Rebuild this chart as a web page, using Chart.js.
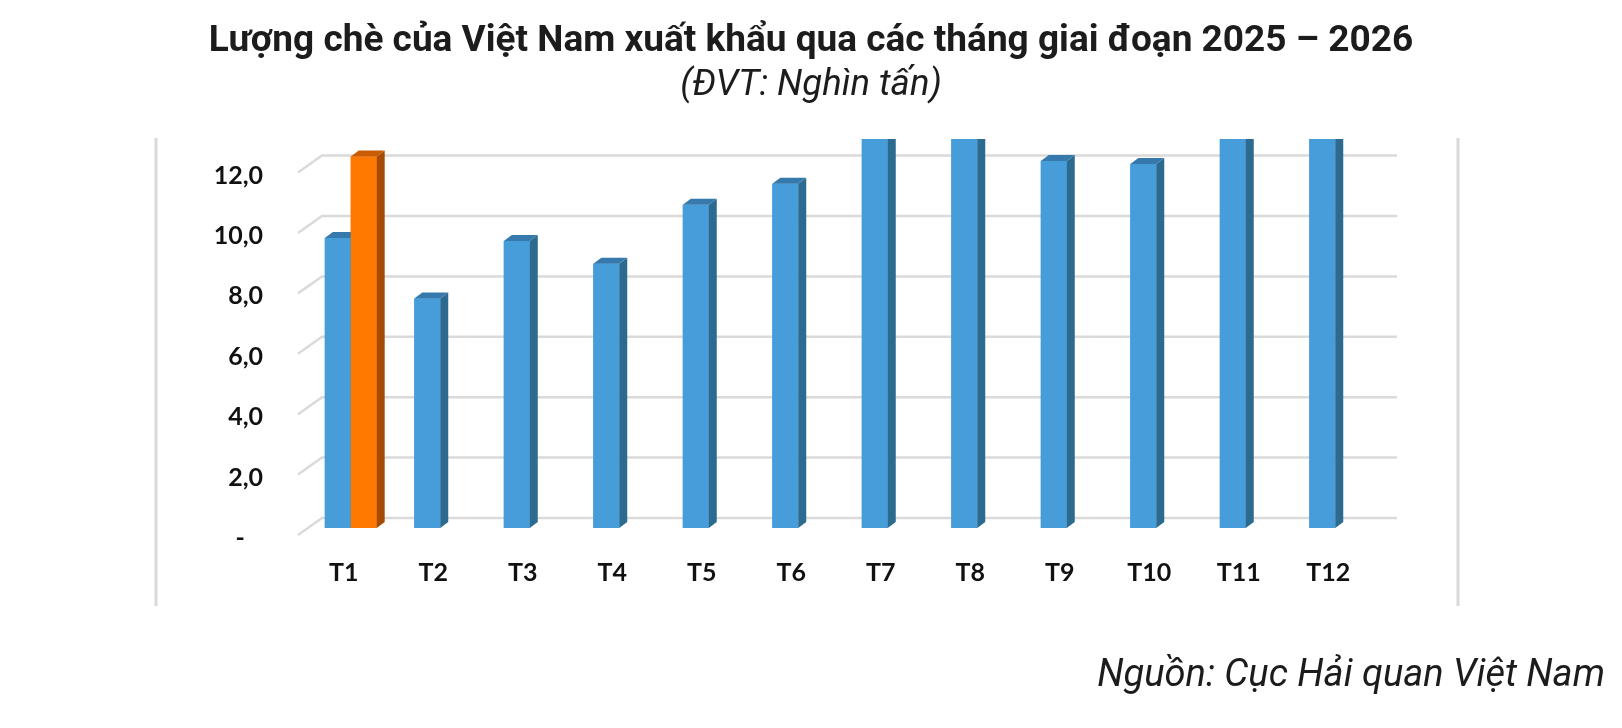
<!DOCTYPE html>
<html lang="vi">
<head>
<meta charset="utf-8">
<title>Lượng chè xuất khẩu</title>
<script src="https://cdn.jsdelivr.net/npm/chart.js@4.4.1/dist/chart.umd.min.js"></script>
<style>
  html, body { margin: 0; padding: 0; background: #fff; overflow: hidden; }
  #wrap { position: relative; width: 1622px; height: 728px; }
  #wrap canvas { position: absolute; left: 0; top: 0; }
  .txt { position: absolute; font-family: Roboto, sans-serif; color: #1c1c1c; white-space: nowrap; }
  #title { left: 0; width: 1622px; text-align: center; top: 20px; font-size: 37px; line-height: 37px; font-weight: bold; }
  #subtitle { left: 0; width: 1622px; text-align: center; top: 65px; font-size: 36.5px; line-height: 36.5px; font-style: italic; }
  #source { right: 17px; top: 654px; font-size: 38px; line-height: 38px; font-style: italic; }
</style>
</head>
<body>
<div id="wrap">
  <canvas id="tea-chart"></canvas>
  <div class="txt" id="title">Lượng chè của Việt Nam xuất khẩu qua các tháng giai đoạn 2025 – 2026</div>
  <div class="txt" id="subtitle">(ĐVT: Nghìn tấn)</div>
  <div class="txt" id="source">Nguồn: Cục Hải quan Việt Nam</div>
</div>
<script>
// Data (nghìn tấn)
const months = ['T1', 'T2', 'T3', 'T4', 'T5', 'T6', 'T7', 'T8', 'T9', 'T10', 'T11', 'T12'];
const tea2025 = [9.6, 7.6, 9.5, 8.75, 10.7, 11.4, 14.2, 13.9, 12.15, 12.05, 13.3, 14.1];
const tea2026 = [12.3, null, null, null, null, null, null, null, null, null, null, null];
const yTicks = [0, 2, 4, 6, 8, 10, 12];

// faces for the fake 3D look
const faceColors = {
    blue: { side: '#2c6a8f', top: '#3579ad' },
    orange: { side: '#a64b05', top: '#c85d06' }
};
const depthX = 8;
const depthY = 6;

const tickFont = { family: 'Lato', size: 25, weight: 'bold' };

// back wall grid + chart frame lines
const wallGrid = {
    id: 'wallGrid',
    beforeDatasetsDraw(chart) {
        const ctx = chart.ctx;
        const area = chart.chartArea;
        const y = chart.scales.y;
        ctx.save();
        // frame (left / right border of the excel chart)
        ctx.strokeStyle = '#d9d9d9';
        ctx.lineWidth = 3;
        ctx.beginPath();
        ctx.moveTo(156, 138);
        ctx.lineTo(156, 606);
        ctx.moveTo(1458, 138);
        ctx.lineTo(1458, 606);
        ctx.stroke();

        ctx.lineWidth = 2.5;
        ctx.strokeStyle = '#dadada';
        yTicks.forEach(v => {
            const py = y.getPixelForValue(v);
            ctx.beginPath();
            ctx.moveTo(area.left - 8, py + 7);
            ctx.lineTo(area.left + 16, py - 10);
            ctx.lineTo(area.right + 17, py - 10);
            ctx.stroke();
        });
        ctx.restore();
    }
};

// redraw bars series by series (2025 first, then 2026) with side + top faces
const bar3d = {
    id: 'bar3d',
    afterDatasetsDraw(chart) {
        const ctx = chart.ctx;
        const area = chart.chartArea;
        ctx.save();
        ctx.beginPath();
        ctx.rect(area.left - 20, area.top, area.width + 60, area.height);
        ctx.clip();
        chart.data.datasets.forEach((ds, d) => {
            const meta = chart.getDatasetMeta(d);
            const colors = faceColors[ds.face];
            meta.data.forEach((bar, i) => {
                if (ds.data[i] === null) return;
                const p = bar.getProps(['x', 'y', 'base', 'width']);
                const left = p.x - p.width / 2;
                const right = p.x + p.width / 2;
                // front
                ctx.fillStyle = ds.backgroundColor;
                ctx.fillRect(left, p.y, p.width, p.base - p.y);
                // side
                ctx.fillStyle = colors.side;
                ctx.beginPath();
                ctx.moveTo(right, p.y);
                ctx.lineTo(right + depthX, p.y - depthY);
                ctx.lineTo(right + depthX, p.base - depthY);
                ctx.lineTo(right, p.base);
                ctx.closePath();
                ctx.fill();
                // top
                ctx.fillStyle = colors.top;
                ctx.beginPath();
                ctx.moveTo(left, p.y);
                ctx.lineTo(left + depthX, p.y - depthY);
                ctx.lineTo(right + depthX, p.y - depthY);
                ctx.lineTo(right, p.y);
                ctx.closePath();
                ctx.fill();
            });
        });
        ctx.restore();
    }
};

const dataTea = {
    labels: months,
    datasets: [
        {
            label: '2025',
            data: tea2025,
            backgroundColor: '#479dda',
            face: 'blue'
        },
        {
            label: '2026',
            data: tea2026,
            backgroundColor: '#ff7800',
            face: 'orange'
        }
    ]
};

const optionsTea = {
    responsive: true,
    maintainAspectRatio: false,
    animation: false,
    layout: {
        padding: { left: 206, right: 242, top: 139, bottom: 140 }
    },
    datasets: {
        bar: {
            categoryPercentage: 0.58,
            barPercentage: 1.0,
            borderWidth: 0
        }
    },
    scales: {
        x: {
            grid: { display: false, drawTicks: false },
            border: { display: false },
            ticks: {
                font: tickFont,
                color: '#111',
                padding: 30,
                labelOffset: -7
            },
            afterFit: (scale) => { scale.height = 60; }
        },
        y: {
            min: 0,
            max: 12.88,
            grid: { display: false, drawTicks: false },
            border: { display: false },
            ticks: {
                stepSize: 2,
                includeBounds: false,
                font: tickFont,
                color: '#111',
                padding: 43,
                labelOffset: 10,
                callback: (value) => value === 0 ? '-   ' : value.toFixed(1).replace('.', ',')
            },
            afterFit: (scale) => { scale.width = 100; }
        }
    },
    plugins: {
        legend: { display: false },
        tooltip: { enabled: false }
    }
};

new Chart(document.querySelector('#tea-chart'), {
    type: 'bar',
    data: dataTea,
    options: optionsTea,
    plugins: [wallGrid, bar3d]
});
</script>
</body>
</html>
